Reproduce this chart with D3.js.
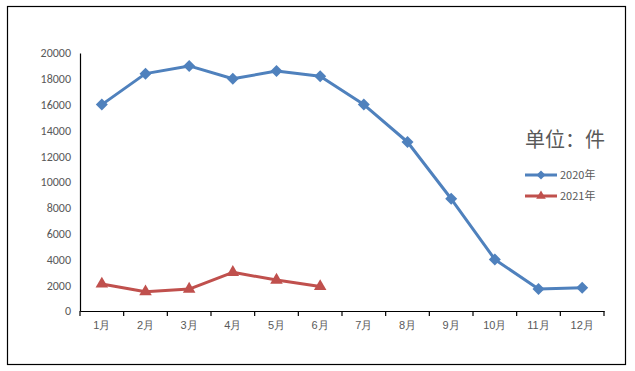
<!DOCTYPE html>
<html>
<head>
<meta charset="utf-8">
<script src="https://cdn.jsdelivr.net/npm/d3@7"></script>
<style>
  body { margin: 0; background: #fff; }
  svg { display: block; font-family: "Microsoft YaHei", "Noto Sans CJK SC", sans-serif; }
</style>
</head>
<body>
<svg id="chart" width="635" height="371"></svg>
<script>
const months = ["1月", "2月", "3月", "4月", "5月", "6月", "7月", "8月", "9月", "10月", "11月", "12月"];
const values2020 = [16000, 18400, 19000, 18000, 18600, 18200, 16000, 13100, 8700, 4000, 1700, 1800];
const values2021 = [2100, 1500, 1700, 3000, 2400, 1900];
const yTicks = [0, 2000, 4000, 6000, 8000, 10000, 12000, 14000, 16000, 18000, 20000];

const svg = d3.select("#chart");
const margin = { left: 80, right: 604, top: 53, bottom: 311 };

// outer frame
svg.append("rect")
  .attr("x", 7.5).attr("y", 6.5)
  .attr("width", 618).attr("height", 358)
  .attr("fill", "none").attr("stroke", "#000").attr("stroke-width", 1.2);

const xScale = d3.scaleBand().domain(months).range([margin.left, margin.right]);
const yScale = d3.scaleLinear().domain([0, 20000]).range([margin.bottom, margin.top]);

// y axis
const yAxis = svg.append("g")
  .attr("transform", `translate(${margin.left},0)`)
  .call(d3.axisLeft(yScale).tickValues(yTicks).tickSize(0).tickPadding(9).tickFormat(d3.format("d")));
yAxis.select(".domain").attr("stroke", "#000").attr("stroke-width", 1.2);
yAxis.selectAll("text").attr("fill", "#595959").style("font-size", "12px")
  .style("font-family", "Calibri, Carlito, 'Liberation Sans', sans-serif");

// x axis
const xAxis = svg.append("g")
  .attr("transform", `translate(0,${margin.bottom})`)
  .call(d3.axisBottom(xScale).tickSize(0).tickPadding(10));
xAxis.select(".domain").attr("stroke", "#000").attr("stroke-width", 1.2);
xAxis.selectAll("text").attr("fill", "#595959").style("font-size", "11px");
// tick marks on band edges
xAxis.selectAll(".edge")
  .data(months.concat(["end"]))
  .join("line")
  .attr("class", "edge")
  .attr("x1", (d, i) => margin.left + i * xScale.bandwidth())
  .attr("x2", (d, i) => margin.left + i * xScale.bandwidth())
  .attr("y1", 0).attr("y2", 5)
  .attr("stroke", "#000").attr("stroke-width", 1.2);

const cx = (d, i) => xScale(months[i]) + xScale.bandwidth() / 2;
const line = d3.line().x(cx).y((d) => yScale(d));

const series = [
  { name: "2020年", values: values2020, color: "#4F81BD", symbol: d3.symbolSquare, rotate: 45, size: 72 },
  { name: "2021年", values: values2021, color: "#C0504D", symbol: d3.symbolTriangle, rotate: 0, size: 68 }
];

series.forEach((s) => {
  svg.append("path")
    .datum(s.values)
    .attr("d", line)
    .attr("fill", "none")
    .attr("stroke", s.color)
    .attr("stroke-width", 3)
    .attr("stroke-linejoin", "round");
  svg.append("g")
    .selectAll("path")
    .data(s.values)
    .join("path")
    .attr("transform", (d, i) => `translate(${cx(d, i)},${yScale(d)}) rotate(${s.rotate})`)
    .attr("d", d3.symbol().type(s.symbol).size(s.size))
    .attr("fill", s.color);
});

// legend
svg.append("text")
  .attr("x", 525).attr("y", 147)
  .attr("fill", "#595959")
  .style("font-size", "20px")
  .text("单位：件");

const legend = svg.append("g")
  .selectAll("g")
  .data(series)
  .join("g")
  .attr("transform", (d, i) => `translate(525,${175 + i * 21})`);
legend.append("line")
  .attr("x1", 0).attr("x2", 32)
  .attr("stroke", (d) => d.color).attr("stroke-width", 3);
legend.append("path")
  .attr("transform", (d) => `translate(16,0) rotate(${d.rotate})`)
  .attr("d", (d) => d3.symbol().type(d.symbol).size(40)())
  .attr("fill", (d) => d.color);
legend.append("text")
  .attr("x", 35).attr("y", 4)
  .attr("fill", "#595959")
  .style("font-size", "11px")
  .text((d) => d.name);
</script>
</body>
</html>
